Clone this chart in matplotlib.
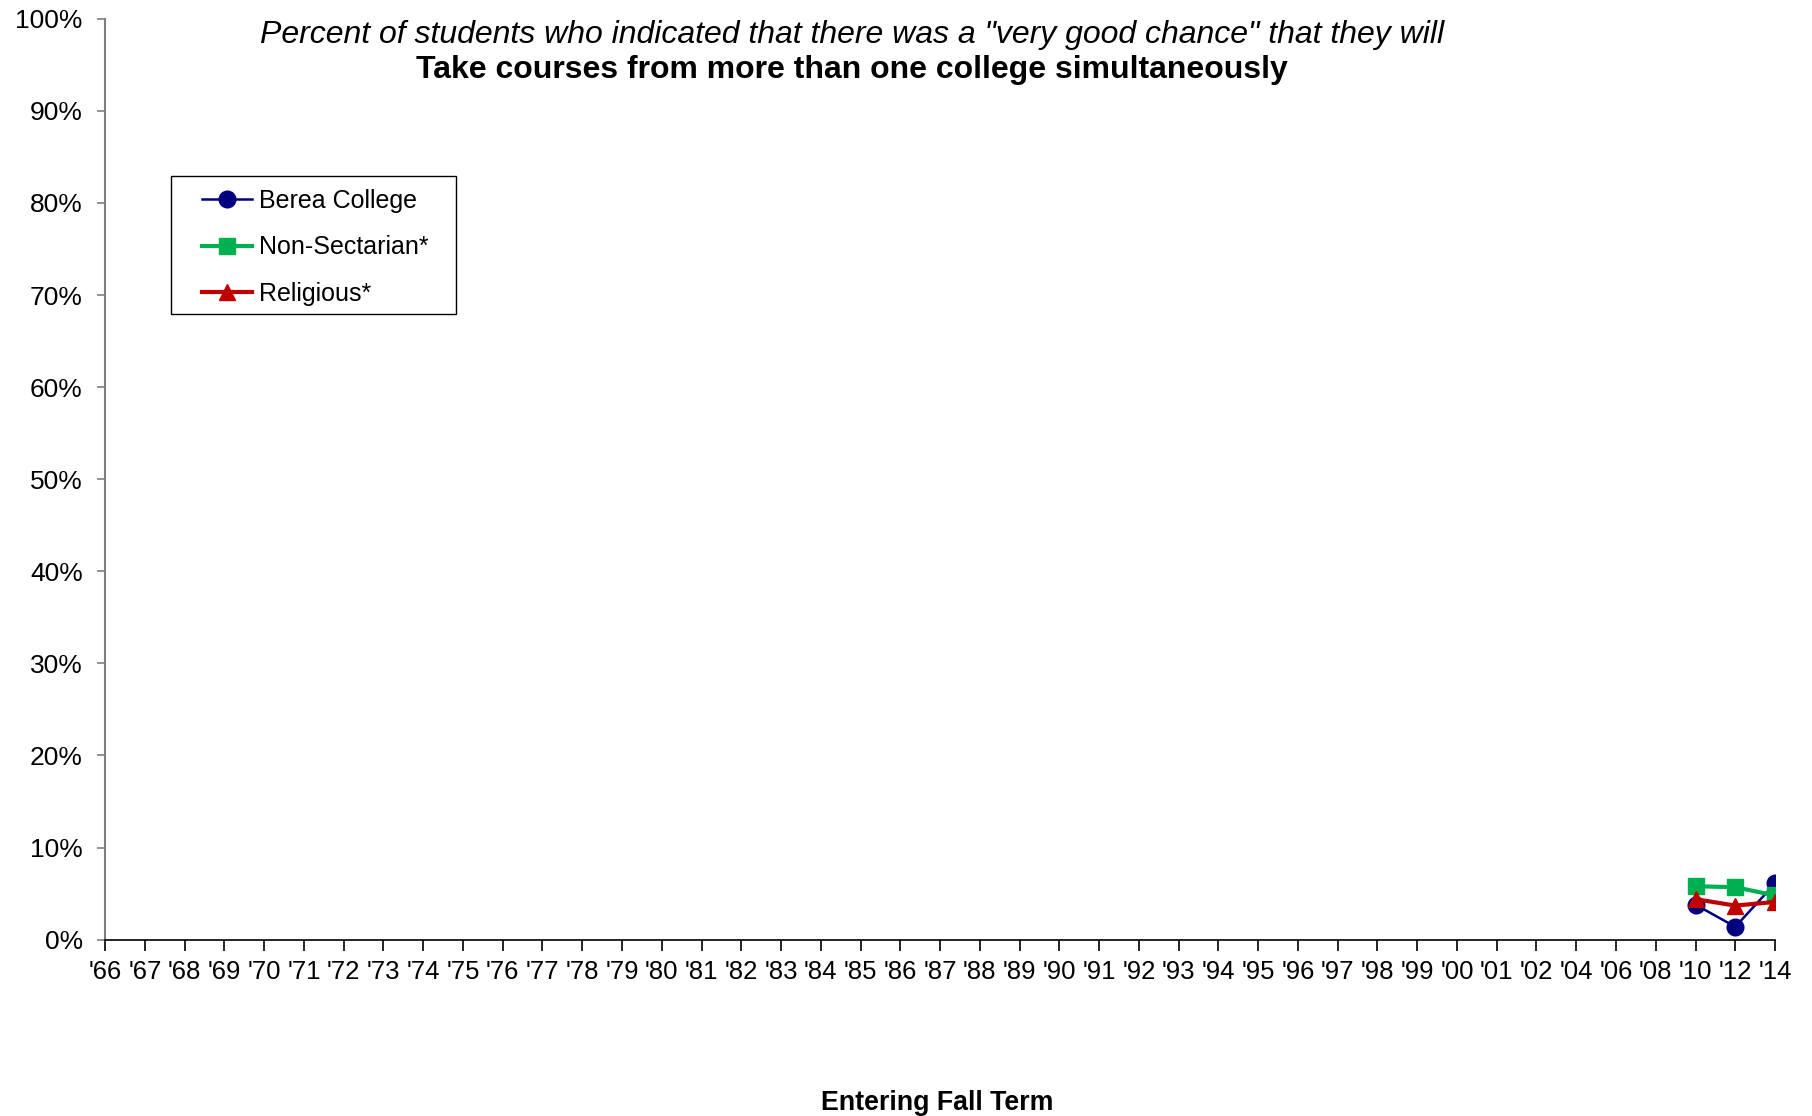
import matplotlib.pyplot as plt
from matplotlib.patches import Rectangle
import numpy as np

plt.rcParams['font.family'] = ['Liberation Sans', 'DejaVu Sans']

# Categorias del eje x
anios = ["'66", "'67", "'68", "'69", "'70", "'71", "'72", "'73", "'74", "'75",
         "'76", "'77", "'78", "'79", "'80", "'81", "'82", "'83", "'84", "'85",
         "'86", "'87", "'88", "'89", "'90", "'91", "'92", "'93", "'94", "'95",
         "'96", "'97", "'98", "'99", "'00", "'01", "'02", "'04", "'06", "'08",
         "'10", "'12", "'14"]

# Solo hay datos para los ultimos tres anios
anios_datos = ["'10", "'12", "'14"]
berea = [0.038, 0.014, 0.061]
no_sectaria = [0.058, 0.057, 0.048]
religiosa = [0.044, 0.037, 0.041]

pos = [anios.index(a) for a in anios_datos]

fig = plt.figure(figsize=(18.12, 11.16), dpi=100)
ax = fig.add_axes([0.058, 0.158, 0.9216, 0.8252])

ax.plot(pos, berea, color='#000080', marker='o', markersize=12, lw=1.8,
        label='Berea College')
ax.plot(pos, no_sectaria, color='#00B050', marker='s', markersize=11, lw=3,
        label='Non-Sectarian*')
ax.plot(pos, religiosa, color='#C00000', marker='^', markersize=12, lw=3,
        label='Religious*')

ax.set_xlim(0, len(anios) - 1)
ax.set_ylim(0, 1)
ax.set_xticks(np.arange(len(anios)))
ax.set_xticklabels(anios, fontsize=18.5)
ax.set_yticks(np.arange(0, 1.01, 0.1))
ax.set_yticklabels([f"{int(round(v * 100))}%" for v in np.arange(0, 1.01, 0.1)], fontsize=19)

ax.spines['top'].set_visible(False)
ax.spines['right'].set_visible(False)
ax.spines['left'].set_color('#808080')
ax.spines['left'].set_linewidth(1.5)
ax.spines['bottom'].set_color('#000000')
ax.spines['bottom'].set_linewidth(1.2)
ax.tick_params(axis='x', direction='out', length=8, width=1.2, color='#000000', pad=6.5)
ax.tick_params(axis='y', direction='out', length=6, width=1.2, color='#808080', pad=10)

# Titulo de dos lineas
fig.text(0.47, 0.969, 'Percent of students who indicated that there was a "very good chance" that they will',
         ha='center', va='center', fontsize=23, style='italic')
fig.text(0.47, 0.937, 'Take courses from more than one college simultaneously',
         ha='center', va='center', fontsize=23, fontweight='bold')

fig.text(0.517, 0.012, 'Entering Fall Term', ha='center', va='center',
         fontsize=19.3, fontweight='bold')

# Leyenda sin marco, el marco se dibuja aparte
leg = ax.legend(loc='upper left', bbox_to_anchor=(0.099, 0.851),
                bbox_transform=fig.transFigure, fontsize=18, frameon=False,
                handlelength=2.0, handletextpad=0.3, labelspacing=0.9,
                borderpad=0.4)
fig.patches.append(Rectangle((0.0944, 0.7186), 0.1573, 0.1237,
                             transform=fig.transFigure, fill=False,
                             edgecolor='#000000', linewidth=1.0))

fig.savefig('out.png', dpi=100)
